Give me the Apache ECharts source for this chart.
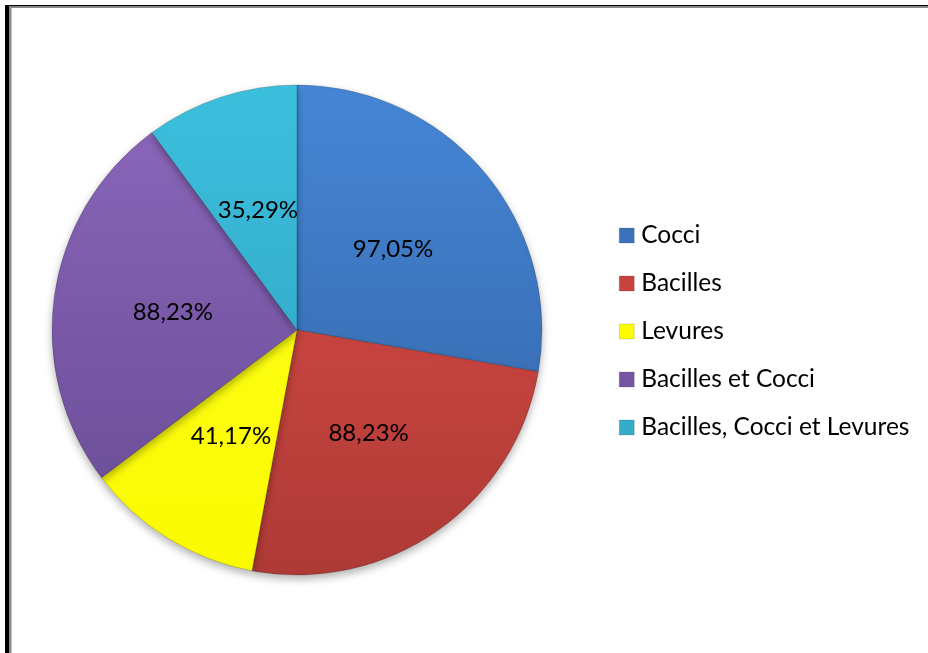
<!DOCTYPE html>
<html>
<head>
<meta charset="utf-8">
<script src="https://cdn.jsdelivr.net/npm/echarts@6/dist/echarts.min.js"></script>
<style>
  html, body { margin: 0; padding: 0; background: #ffffff; }
  #chart { width: 928px; height: 653px; }
</style>
</head>
<body>
<div id="chart"></div>
<script>
// Catégories et pourcentages
const categories = ['Cocci', 'Bacilles', 'Levures', 'Bacilles et Cocci', 'Bacilles, Cocci et Levures'];
const values = [97.05, 88.23, 41.17, 88.23, 35.29];
const valueLabels = ['97,05%', '88,23%', '41,17%', '88,23%', '35,29%'];

// Couleurs : haut clair -> bas foncé
const colorsTop = ['#4686d6', '#e04e48', '#ffff22', '#8c68bc', '#3cc0de'];
const colorsBottom = ['#3262a2', '#ae3a36', '#fafa00', '#664a92', '#2e9cbc'];
const colorsMid = ['#3a72bc', '#c8423e', '#fcfc00', '#7656a4', '#34acca'];

const FONT = 'Lato, "Liberation Sans", sans-serif';
const CX = 297, CY = 330, R = 245;

const chart = echarts.init(document.getElementById('chart'), null, { renderer: 'canvas' });

const pieData = categories.map((name, i) => ({
  name: name,
  value: values[i],
  label: { formatter: valueLabels[i] },
  itemStyle: {
    color: {
      type: 'linear', global: true,
      x: 0, y: CY - R, x2: 0, y2: CY + R,
      colorStops: [
        { offset: 0, color: colorsTop[i] },
        { offset: 1, color: colorsBottom[i] }
      ]
    }
  }
}));

chart.setOption({
  backgroundColor: '#ffffff',
  animation: false,
  graphic: [
    // cadre : trait noir + ombre grise en haut et à gauche
    { type: 'rect', shape: { x: 5, y: 5, width: 923, height: 1.5 }, style: { fill: '#000000' }, z: 10 },
    { type: 'rect', shape: { x: 9, y: 6.5, width: 919, height: 1.5 }, style: { fill: '#8a8a8a' }, z: 10 },
    { type: 'rect', shape: { x: 5, y: 5, width: 4, height: 648 }, style: { fill: '#000000' }, z: 10 },
    { type: 'rect', shape: { x: 9, y: 6.5, width: 2.5, height: 647 }, style: { fill: '#8a8a8a' }, z: 10 }
  ],
  legend: {
    orient: 'vertical',
    left: 619,
    top: 223,
    padding: 0,
    icon: 'rect',
    itemWidth: 15,
    itemHeight: 15,
    itemGap: 23,
    selectedMode: false,
    textStyle: { fontFamily: FONT, fontSize: 24.5, color: '#000000', lineHeight: 24, padding: [0, 0, 0, 2] },
    data: categories.map((name, i) => ({ name: name, itemStyle: { color: colorsMid[i], borderColor: 'rgba(0,0,0,0.25)', borderWidth: 0.5 } }))
  },
  series: [{
    type: 'pie',
    center: [CX, CY],
    radius: [0, R],
    startAngle: 90,
    clockwise: true,
    avoidLabelOverlap: false,
    label: {
      show: true,
      position: 'inside',
      fontFamily: FONT,
      fontSize: 24,
      color: '#000000'
    },
    labelLine: { show: false },
    itemStyle: {
      borderColor: 'rgba(0,0,0,0.18)',
      borderWidth: 1,
      shadowColor: 'rgba(0,0,0,0.3)',
      shadowBlur: 8,
      shadowOffsetY: 4
    },
    emphasis: { disabled: true },
    data: pieData
  }]
});
</script>
</body>
</html>
